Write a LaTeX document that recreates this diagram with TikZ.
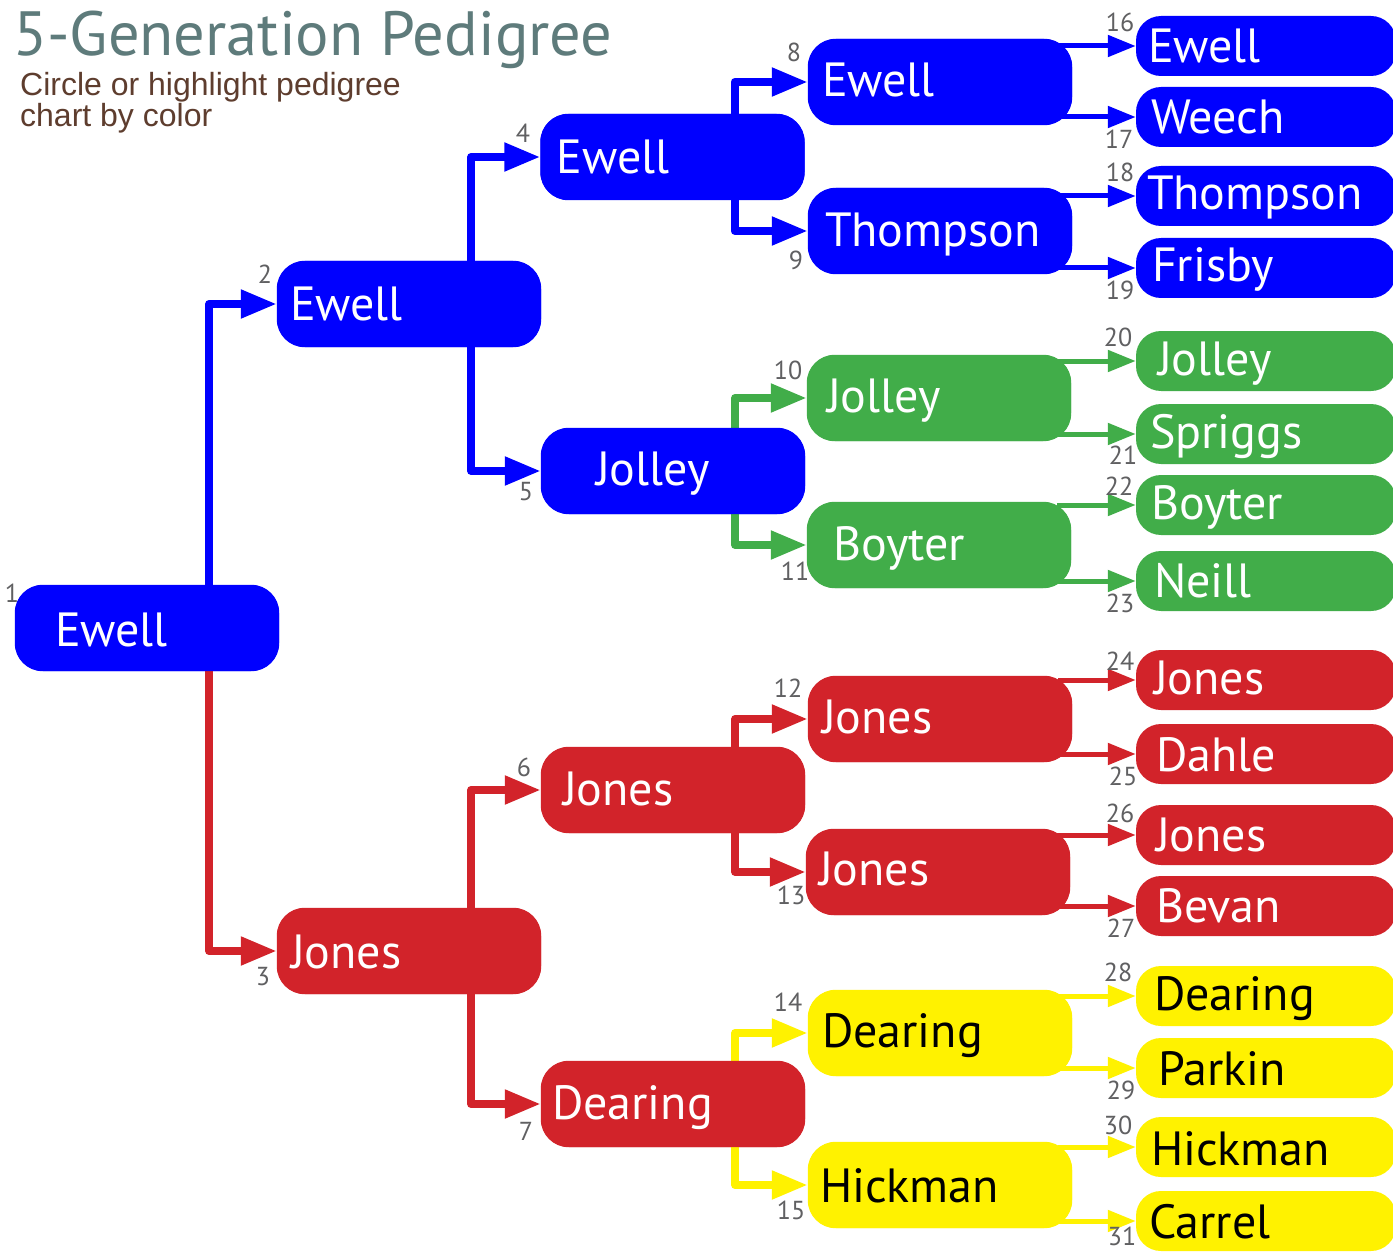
\documentclass[tikz,border=0pt]{standalone}
\usepackage{fontspec}
\setmainfont{PT Sans}
\newfontfamily\subfont{Liberation Sans}
\usetikzlibrary{arrows.meta,calc}
\definecolor{cblue}{HTML}{0000FF}
\definecolor{cgreen}{HTML}{41AD49}
\definecolor{cred}{HTML}{D2232A}
\definecolor{cyel}{HTML}{FFF200}
\definecolor{numgray}{HTML}{606062}
\definecolor{titlecol}{HTML}{5E7B7B}
\definecolor{subcol}{HTML}{5E3D2E}
\tikzset{
  bigbox/.style={fill=#1, draw=none, rounded corners=28pt, minimum width=264pt, minimum height=86pt, inner sep=0pt},
  smallbox/.style={fill=#1, draw=none, rounded corners=25pt, minimum width=260pt, minimum height=60pt, inner sep=0pt},
  nametext/.style={anchor=base west, inner sep=0pt, font=\fontsize{48}{50}\selectfont, text=#1},
  numtext/.style={inner sep=0pt, font=\fontsize{26}{28}\selectfont, text=numgray},
  linkarrow/.style={draw=#1, line width=8pt, line join=round, -{Triangle[length=36pt,width=27pt]}},
  outarrow/.style={draw=#1, line width=5pt, -{Triangle[length=28pt,width=21pt]}}
}
\newcommand\fatherlink[3]{\draw[linkarrow=#3] ($(#1.north east)+(-70,0)$) |- (#2.west);}
\newcommand\motherlink[3]{\draw[linkarrow=#3] ($(#1.south east)+(-70,0)$) |- (#2.west);}
\newcommand\outlink[3]{\draw[outarrow=#3] ($(#1.east |- #2.west)+(-14,0)$) -- (#2.west);}
\begin{document}
\begin{tikzpicture}[x=1pt,y=-1pt]
\clip (0,0) rectangle (1393,1252);
\fill[white] (0,0) rectangle (1393,1252);
% title
\node[anchor=base west, inner sep=0pt, font=\fontsize{62.5}{66}\selectfont, text=titlecol] (title) at (13,56) {5-Generation Pedigree};
\node[anchor=base west, inner sep=0pt, font=\subfont\fontsize{32}{34}\selectfont, text=subcol] (sub) at (20,96) {Circle or highlight pedigree};
\node[anchor=base west, inner sep=0pt, font=\subfont\fontsize{32}{34}\selectfont, text=subcol] (sub2) at (20,127) {chart by color};

\node[bigbox=cblue] (n1) at (147,628) {};
\node[bigbox=cblue] (n2) at (409,304) {};
\node[bigbox=cred] (n3) at (409,951) {};
\node[bigbox=cblue] (n4) at (672.5,157) {};
\node[bigbox=cblue] (n5) at (673,471) {};
\node[bigbox=cred] (n6) at (673,790) {};
\node[bigbox=cred] (n7) at (673,1104) {};
\node[bigbox=cblue] (n8) at (940,82) {};
\node[bigbox=cblue] (n9) at (940,231) {};
\node[bigbox=cgreen] (n10) at (939,398) {};
\node[bigbox=cgreen] (n11) at (939,545) {};
\node[bigbox=cred] (n12) at (940,719) {};
\node[bigbox=cred] (n13) at (938,872) {};
\node[bigbox=cyel] (n14) at (940,1033) {};
\node[bigbox=cyel] (n15) at (940,1185) {};
\node[smallbox=cblue] (n16) at (1266,46) {};
\node[smallbox=cblue] (n17) at (1266,117) {};
\node[smallbox=cblue] (n18) at (1266,196) {};
\node[smallbox=cblue] (n19) at (1266,268) {};
\node[smallbox=cgreen] (n20) at (1266,361) {};
\node[smallbox=cgreen] (n21) at (1266,434) {};
\node[smallbox=cgreen] (n22) at (1266,505) {};
\node[smallbox=cgreen] (n23) at (1266,581) {};
\node[smallbox=cred] (n24) at (1266,680) {};
\node[smallbox=cred] (n25) at (1266,754) {};
\node[smallbox=cred] (n26) at (1266,835) {};
\node[smallbox=cred] (n27) at (1266,906) {};
\node[smallbox=cyel] (n28) at (1266,996) {};
\node[smallbox=cyel] (n29) at (1266,1068) {};
\node[smallbox=cyel] (n30) at (1266,1147) {};
\node[smallbox=cyel] (n31) at (1266,1221) {};

% connectors
\fatherlink{n1}{n2}{cblue}
\motherlink{n1}{n3}{cred}
\fatherlink{n2}{n4}{cblue}
\motherlink{n2}{n5}{cblue}
\fatherlink{n3}{n6}{cred}
\motherlink{n3}{n7}{cred}
\fatherlink{n4}{n8}{cblue}
\motherlink{n4}{n9}{cblue}
\fatherlink{n5}{n10}{cgreen}
\motherlink{n5}{n11}{cgreen}
\fatherlink{n6}{n12}{cred}
\motherlink{n6}{n13}{cred}
\fatherlink{n7}{n14}{cyel}
\motherlink{n7}{n15}{cyel}
\outlink{n8}{n16}{cblue}
\outlink{n8}{n17}{cblue}
\outlink{n9}{n18}{cblue}
\outlink{n9}{n19}{cblue}
\outlink{n10}{n20}{cgreen}
\outlink{n10}{n21}{cgreen}
\outlink{n11}{n22}{cgreen}
\outlink{n11}{n23}{cgreen}
\outlink{n12}{n24}{cred}
\outlink{n12}{n25}{cred}
\outlink{n13}{n26}{cred}
\outlink{n13}{n27}{cred}
\outlink{n14}{n28}{cyel}
\outlink{n14}{n29}{cyel}
\outlink{n15}{n30}{cyel}
\outlink{n15}{n31}{cyel}

% box fills on top of connector starts
\foreach \n/\c in {n1/cblue,n2/cblue,n3/cred,n4/cblue,n5/cblue,n6/cred,n7/cred,n8/cblue,n9/cblue,n10/cgreen,n11/cgreen,n12/cred,n13/cred,n14/cyel,n15/cyel}{
  \fill[\c, rounded corners=28pt] (\n.south west) rectangle (\n.north east);
}

% names
\node[nametext=white] (t1) at ($(n1.west)+(40,18)$) {Ewell};
\node[nametext=white] (t2) at ($(n2.west)+(13,16)$) {Ewell};
\node[nametext=white] (t3) at ($(n3.west)+(14,17)$) {Jones};
\node[nametext=white] (t4) at ($(n4.west)+(16,17)$) {Ewell};
\node[nametext=white] (t5) at ($(n5.west)+(55,14)$) {Jolley};
\node[nametext=white] (t6) at ($(n6.west)+(22,15)$) {Jones};
\node[nametext=white] (t7) at ($(n7.west)+(11,15)$) {Dearing};
\node[nametext=white] (t8) at ($(n8.west)+(14,15)$) {Ewell};
\node[nametext=white] (t9) at ($(n9.west)+(17,16)$) {Thompson};
\node[nametext=white] (t10) at ($(n10.west)+(20,14)$) {Jolley};
\node[nametext=white] (t11) at ($(n11.west)+(26,15)$) {Boyter};
\node[nametext=white] (t12) at ($(n12.west)+(14,14)$) {Jones};
\node[nametext=white] (t13) at ($(n13.west)+(13,13)$) {Jones};
\node[nametext=black] (t14) at ($(n14.west)+(14,14)$) {Dearing};
\node[nametext=black] (t15) at ($(n15.west)+(12,17)$) {Hickman};
\node[nametext=white] (t16) at ($(n16.west)+(12,17)$) {Ewell};
\node[nametext=white] (t17) at ($(n17.west)+(15,17)$) {Weech};
\node[nametext=white] (t18) at ($(n18.west)+(11,14)$) {Thompson};
\node[nametext=white] (t19) at ($(n19.west)+(16,14)$) {Frisby};
\node[nametext=white] (t20) at ($(n20.west)+(22,14)$) {Jolley};
\node[nametext=white] (t21) at ($(n21.west)+(14,14)$) {Spriggs};
\node[nametext=white] (t22) at ($(n22.west)+(15,14)$) {Boyter};
\node[nametext=white] (t23) at ($(n23.west)+(18,16)$) {Neill};
\node[nametext=white] (t24) at ($(n24.west)+(18,14)$) {Jones};
\node[nametext=white] (t25) at ($(n25.west)+(20,17)$) {Dahle};
\node[nametext=white] (t26) at ($(n26.west)+(20,16)$) {Jones};
\node[nametext=white] (t27) at ($(n27.west)+(20,16)$) {Bevan};
\node[nametext=black] (t28) at ($(n28.west)+(18,14)$) {Dearing};
\node[nametext=black] (t29) at ($(n29.west)+(22,17)$) {Parkin};
\node[nametext=black] (t30) at ($(n30.west)+(15,18)$) {Hickman};
\node[nametext=black] (t31) at ($(n31.west)+(13,17)$) {Carrel};

% numbers
\node[numtext] (k1) at (12,593) {1};
\node[numtext] (k2) at (265,274) {2};
\node[numtext] (k3) at (263,977) {3};
\node[numtext] (k4) at (523,133) {4};
\node[numtext] (k5) at (526,492) {5};
\node[numtext] (k6) at (524,767) {6};
\node[numtext] (k7) at (526,1131) {7};
\node[numtext] (k8) at (794,52) {8};
\node[numtext] (k9) at (796,260) {9};
\node[numtext] (k10) at (788,370) {10};
\node[numtext] (k11) at (795,571) {11};
\node[numtext] (k12) at (788,688) {12};
\node[numtext] (k13) at (791,895) {13};
\node[numtext] (k14) at (788,1002) {14};
\node[numtext] (k15) at (791,1210) {15};
\node[numtext] (k16) at (1120,22) {16};
\node[numtext] (k17) at (1119,139) {17};
\node[numtext] (k18) at (1120,172) {18};
\node[numtext] (k19) at (1120,290) {19};
\node[numtext] (k20) at (1118,337) {20};
\node[numtext] (k21) at (1123,455) {21};
\node[numtext] (k22) at (1119,486) {22};
\node[numtext] (k23) at (1120,603) {23};
\node[numtext] (k24) at (1120,661) {24};
\node[numtext] (k25) at (1123,776) {25};
\node[numtext] (k26) at (1120,813) {26};
\node[numtext] (k27) at (1121,928) {27};
\node[numtext] (k28) at (1118,972) {28};
\node[numtext] (k29) at (1121,1090) {29};
\node[numtext] (k30) at (1118,1125) {30};
\node[numtext] (k31) at (1122,1236) {31};
\end{tikzpicture}
\end{document}
